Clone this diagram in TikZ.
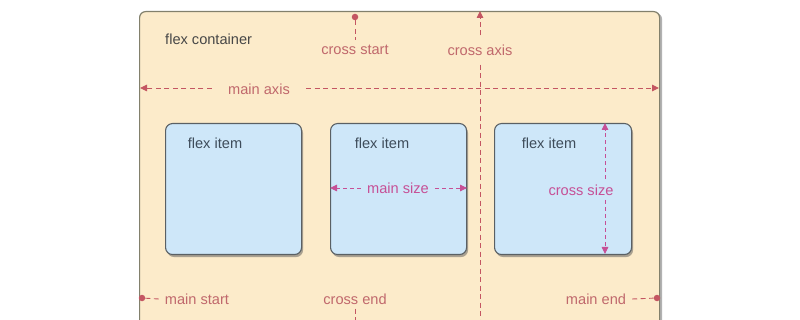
\documentclass[tikz,border=0pt]{standalone}
\usepackage{fontspec}
\setmainfont{Liberation Sans}
\usetikzlibrary{shadows,arrows.meta,calc}
\definecolor{contfill}{RGB}{252,235,202}
\definecolor{contline}{RGB}{130,128,108}
\definecolor{itemfill}{RGB}{206,231,249}
\definecolor{itemline}{RGB}{90,96,100}
\definecolor{lblred}{RGB}{192,104,108}
\definecolor{linered}{RGB}{196,86,98}
\definecolor{magent}{RGB}{198,80,150}
\definecolor{itemtxt}{RGB}{62,76,90}
\tikzset{
  lbl/.style={font=\fontsize{14.6}{17}\selectfont, text=lblred, inner sep=0pt},
  szlbl/.style={font=\fontsize{14.6}{17}\selectfont, text=magent, inner sep=0pt},
  itemlbl/.style={font=\fontsize{14.6}{17}\selectfont, text=itemtxt, inner sep=0pt},
  itembox/.style={draw=itemline, line width=1.1pt, fill=itemfill, rounded corners=7pt,
     drop shadow={shadow xshift=1.5pt, shadow yshift=-2.5pt, opacity=0.5, fill=black!65}},
  dashln/.style={draw=linered, line width=0.9pt, dash pattern=on 5pt off 3.5pt},
  szln/.style={draw=magent, line width=0.9pt, dash pattern=on 4pt off 3pt},
  tip/.style={-{Triangle[length=7pt,width=6.5pt]}},
  dot/.style={circle, fill=linered, inner sep=0pt, minimum size=6.5pt}
}
\begin{document}
\begin{tikzpicture}[x=1pt,y=-1pt]
\useasboundingbox (0,0) rectangle (800,320);
\fill[white] (0,0) rectangle (800,320);
\begin{scope}
\clip (0,0) rectangle (800,320);
% container
\node[draw=contline, line width=1.2pt, fill=contfill, rounded corners=6pt,
      minimum width=520pt, minimum height=340pt, inner sep=0pt, anchor=north west,
      drop shadow={shadow xshift=2.5pt, shadow yshift=-1.5pt, opacity=0.55, fill=black!55}]
      (cont) at (139,11) {};
\node[anchor=west, font=\fontsize{14.6}{17}\selectfont, text=black!72, inner sep=0pt] (ctitle) at (165,39) {flex container};

% items
\node[itembox, minimum width=136pt, minimum height=131pt, anchor=north west, inner sep=0pt] (item1) at (165,123) {};
\node[itembox, minimum width=136pt, minimum height=131pt, anchor=north west, inner sep=0pt] (item2) at (330,123) {};
\node[itembox, minimum width=137pt, minimum height=131pt, anchor=north west, inner sep=0pt] (item3) at (494,123) {};
\node[itemlbl] (t1) at (215,143) {flex item};
\node[itemlbl] (t2) at (382,143) {flex item};
\node[itemlbl] (t3) at (549,143) {flex item};

% main axis
\node[lbl, inner xsep=16pt] (maxis) at (259,89) {main axis};
\coordinate (maL) at (140,88);
\coordinate (maR) at (659,88);
\draw[dashln, tip] (maxis.west |- maL) -- (maL);
\draw[dashln, tip] (maxis.east |- maR) -- (maR);

% cross axis
\node[lbl, inner ysep=9pt] (caxis) at (480,50) {cross axis};
\coordinate (caT) at (480,11);
\coordinate (caB) at (480,330);
\draw[dashln, tip] (caxis.north) -- (caT);
\draw[dashln] (caxis.south) -- (caB);

% cross start / end
\node[lbl] (cstart) at (355,50) {cross start};
\node[dot] (csdot) at (355,17) {};
\draw[dashln] (csdot) -- ([yshift=5pt]cstart.north);
\node[lbl] (cend) at (355,299) {cross end};
\coordinate (ceB) at (355,330);
\draw[dashln] ([yshift=-4pt]cend.south) -- (ceB);

% main start / end
\node[lbl] (mstart) at (197,299) {main start};
\node[dot] (msdot) at (142,298) {};
\draw[dashln] (msdot) -- ([xshift=-6pt]mstart.west);
\node[lbl] (mend) at (596,299) {main end};
\node[dot] (medot) at (657,298) {};
\draw[dashln] ([xshift=6pt]mend.east) -- (medot);

% main size
\node[szlbl, inner xsep=6pt] (msize) at (398,188) {main size};
\draw[szln, tip] (msize.west) -- (item2.west |- msize.west);
\draw[szln, tip] (msize.east) -- (item2.east |- msize.east);

% cross size
\node[szlbl] (csize) at (581,190) {cross size};
\coordinate (csT) at (605,123);
\coordinate (csB) at (605,254);
\draw[szln, tip] (605,179) -- (csT);
\draw[szln, tip] (605,200) -- (csB);
\end{scope}
\end{tikzpicture}
\end{document}
